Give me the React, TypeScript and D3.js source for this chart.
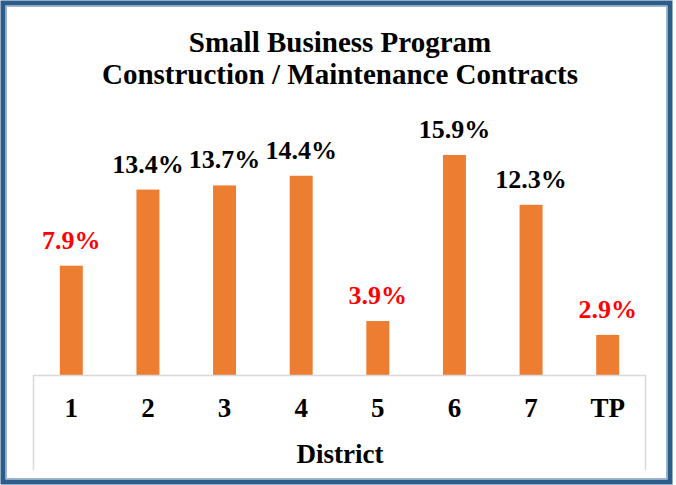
import React from 'react';
import * as d3 from 'd3';

const districts = ['1', '2', '3', '4', '5', '6', '7', 'TP'];
const shares = [7.9, 13.4, 13.7, 14.4, 3.9, 15.9, 12.3, 2.9];
const labelColors = ['#FF0000', '#000', '#000', '#000', '#FF0000', '#000', '#000', '#FF0000'];

const W = 676;
const H = 485;

const serif = { fontFamily: "'Liberation Serif'" };

const App = () => {
  const x = d3.scaleBand<string>().domain(districts).range([33, 646]).paddingInner(0.7).paddingOuter(0.35);
  const y = d3.scaleLinear().domain([0, 15.9]).range([375, 155]);

  return (
    <svg width={W} height={H} style={{ position: 'absolute', left: 0, top: 0, background: '#fff' }}>
      {/* frame */}
      <rect x={3} y={3} width={W - 9} height={H - 6} fill="none" stroke="#2B5C8A" strokeWidth={5} />
      <rect x={6.5} y={6.5} width={W - 16} height={H - 13} fill="none" stroke="#9FB3C8" strokeWidth={1} />

      <text x={340} y={52} textAnchor="middle" fontSize={29} fontWeight="bold" style={serif}>Small Business Program</text>
      <text x={340} y={84} textAnchor="middle" fontSize={29} fontWeight="bold" style={serif}>Construction / Maintenance Contracts</text>

      {districts.map((d, i) => (
        <g key={d}>
          <rect x={x(d)} y={y(shares[i])} width={x.bandwidth()} height={y(0) - y(shares[i])} fill="#ED7D31" />
          <text x={(x(d) as number) + x.bandwidth() / 2} y={y(shares[i]) - 17} textAnchor="middle" fontSize={26} fontWeight="bold" fill={labelColors[i]} style={serif}>
            {shares[i].toFixed(1)}%
          </text>
          <text x={(x(d) as number) + x.bandwidth() / 2} y={417} textAnchor="middle" fontSize={27} fontWeight="bold" style={serif}>{d}</text>
        </g>
      ))}

      {/* axis box */}
      <path d={`M33.5,470 V375.5 H645.5 V470`} fill="none" stroke="#D9D9D9" strokeWidth={1.5} />

      <text x={340} y={463} textAnchor="middle" fontSize={27} fontWeight="bold" style={serif}>District</text>
    </svg>
  );
};

export default App;
